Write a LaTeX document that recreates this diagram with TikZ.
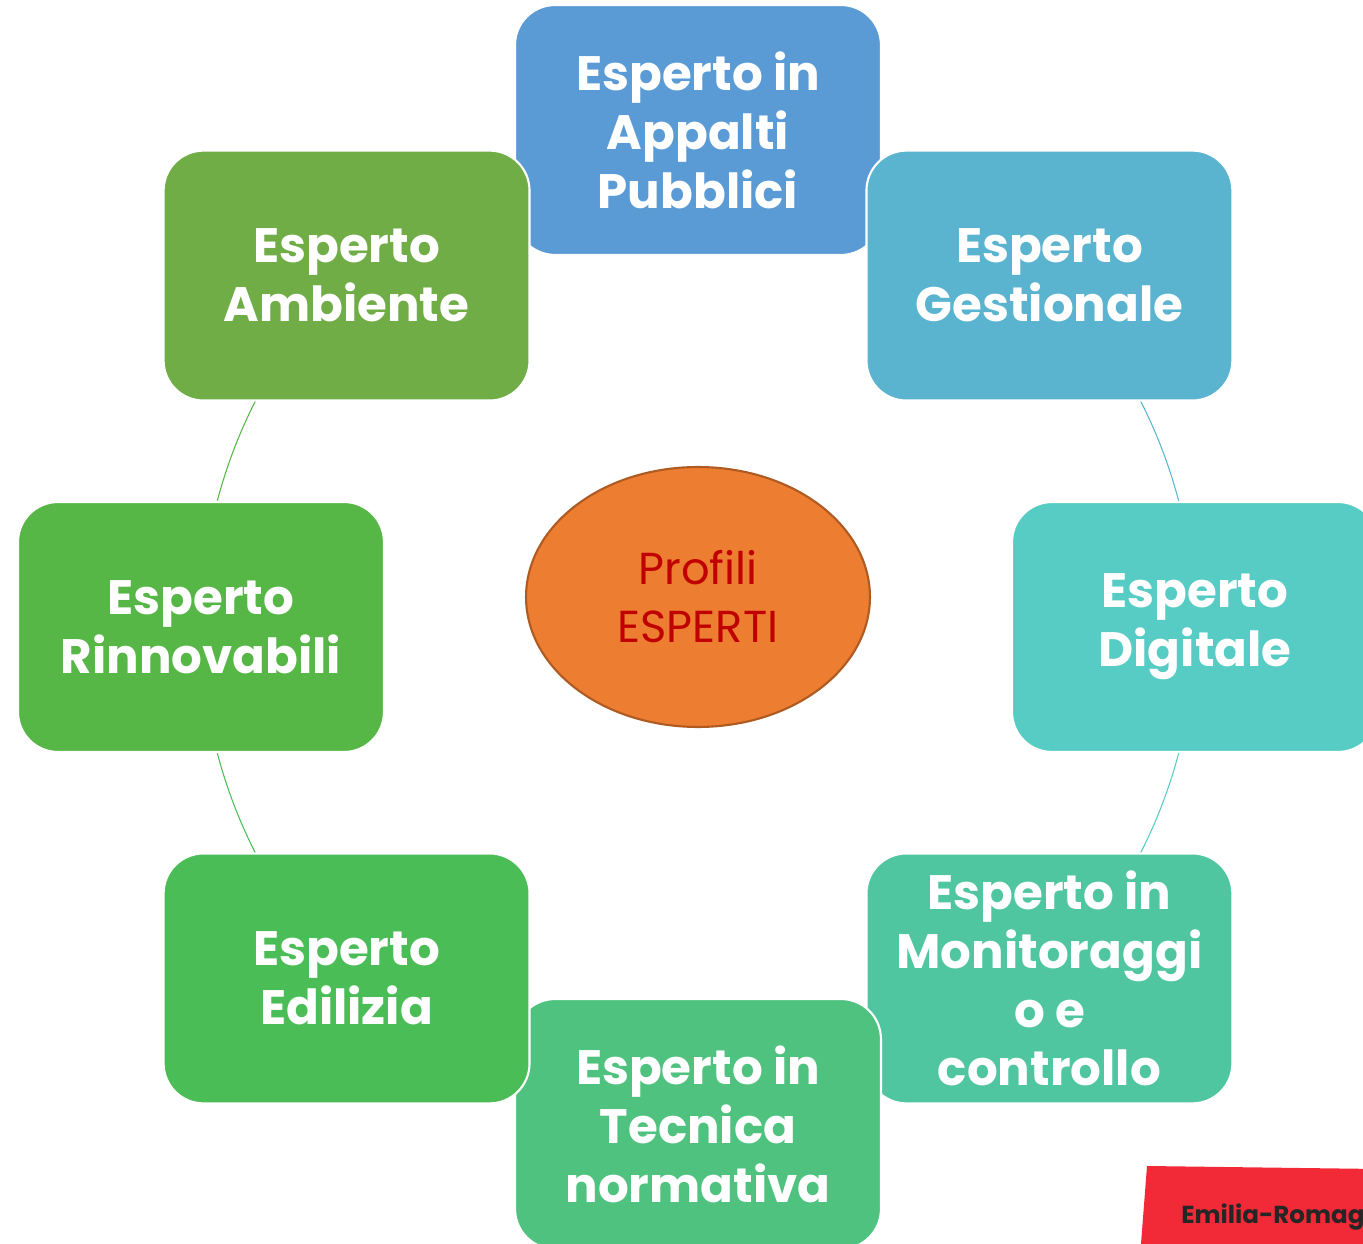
\documentclass[tikz,border=0pt]{standalone}
\usepackage{fontspec}
\setmainfont{Poppins}
\usetikzlibrary{shapes.geometric,backgrounds}
\definecolor{c1}{HTML}{5B9BD5}
\definecolor{c2}{HTML}{5AB4D0}
\definecolor{c3}{HTML}{56CCC5}
\definecolor{c4}{HTML}{50C6A0}
\definecolor{c5}{HTML}{4EC27E}
\definecolor{c6}{HTML}{4BBD56}
\definecolor{c7}{HTML}{56B646}
\definecolor{c8}{HTML}{70AD47}
\definecolor{centro}{HTML}{ED7D31}
\definecolor{bordo}{HTML}{AE5A21}
\definecolor{scritta}{HTML}{C00000}
\definecolor{regione}{HTML}{F22A38}

\begin{document}
\begin{tikzpicture}[x=0.02cm, y=0.02cm,
    profilo/.style={rounded corners=0.8cm, draw=white, line width=1.2pt,
      minimum width=7.32cm, minimum height=5cm, inner sep=0pt, align=center,
      text=white, font=\bfseries\fontsize{27.5}{33.5}\selectfont},
    giro/.style={bend left=22.5, looseness=0.885, line width=0.6pt}]
\useasboundingbox (-698,-617) rectangle (665,627);
\clip (-698,-617) rectangle (665,627);
    \node[profilo, fill=c1] (1) at (90:497) {Esperto in\\Appalti\\Pubblici};
    \node[profilo, fill=c2] (2) at (45:497) {Esperto\\Gestionale};
    \node[profilo, fill=c3] (3) at (0:497) {Esperto\\Digitale};
    \node[profilo, fill=c4] (4) at (-45:497) {Esperto in\\Monitoraggi\\o e\\controllo};
    \node[profilo, fill=c5] (5) at (-90:497) {Esperto in\\Tecnica\\normativa};
    \node[profilo, fill=c6] (6) at (-135:497) {Esperto\\Edilizia};
    \node[profilo, fill=c7] (7) at (180:497) {Esperto\\Rinnovabili};
    \node[profilo, fill=c8] (8) at (135:497) {Esperto\\Ambiente};
    \node[ellipse, draw=bordo, line width=1.2pt, fill=centro, minimum width=6.88cm,
      minimum height=5.2cm, inner sep=0pt, align=center, text=scritta,
      font=\fontsize{25.5}{33}\selectfont] (0) at (0,30) {Profili\\ESPERTI};
\begin{scope}[on background layer]
    \foreach \i/\j in {1/2,2/3,3/4,4/5,5/6,6/7,7/8,8/1}
      \draw[giro, c\i] (\i.center) to (\j.center);
\end{scope}
    \fill[regione] (449,-539) -- (680,-542) -- (680,-630) -- (442,-630) -- cycle;
    \node[anchor=base west, inner sep=0pt, text=black!85,
      font=\bfseries\fontsize{14}{16}\selectfont] (r) at (483,-596) {Emilia-Romagna};
\end{tikzpicture}
\end{document}
